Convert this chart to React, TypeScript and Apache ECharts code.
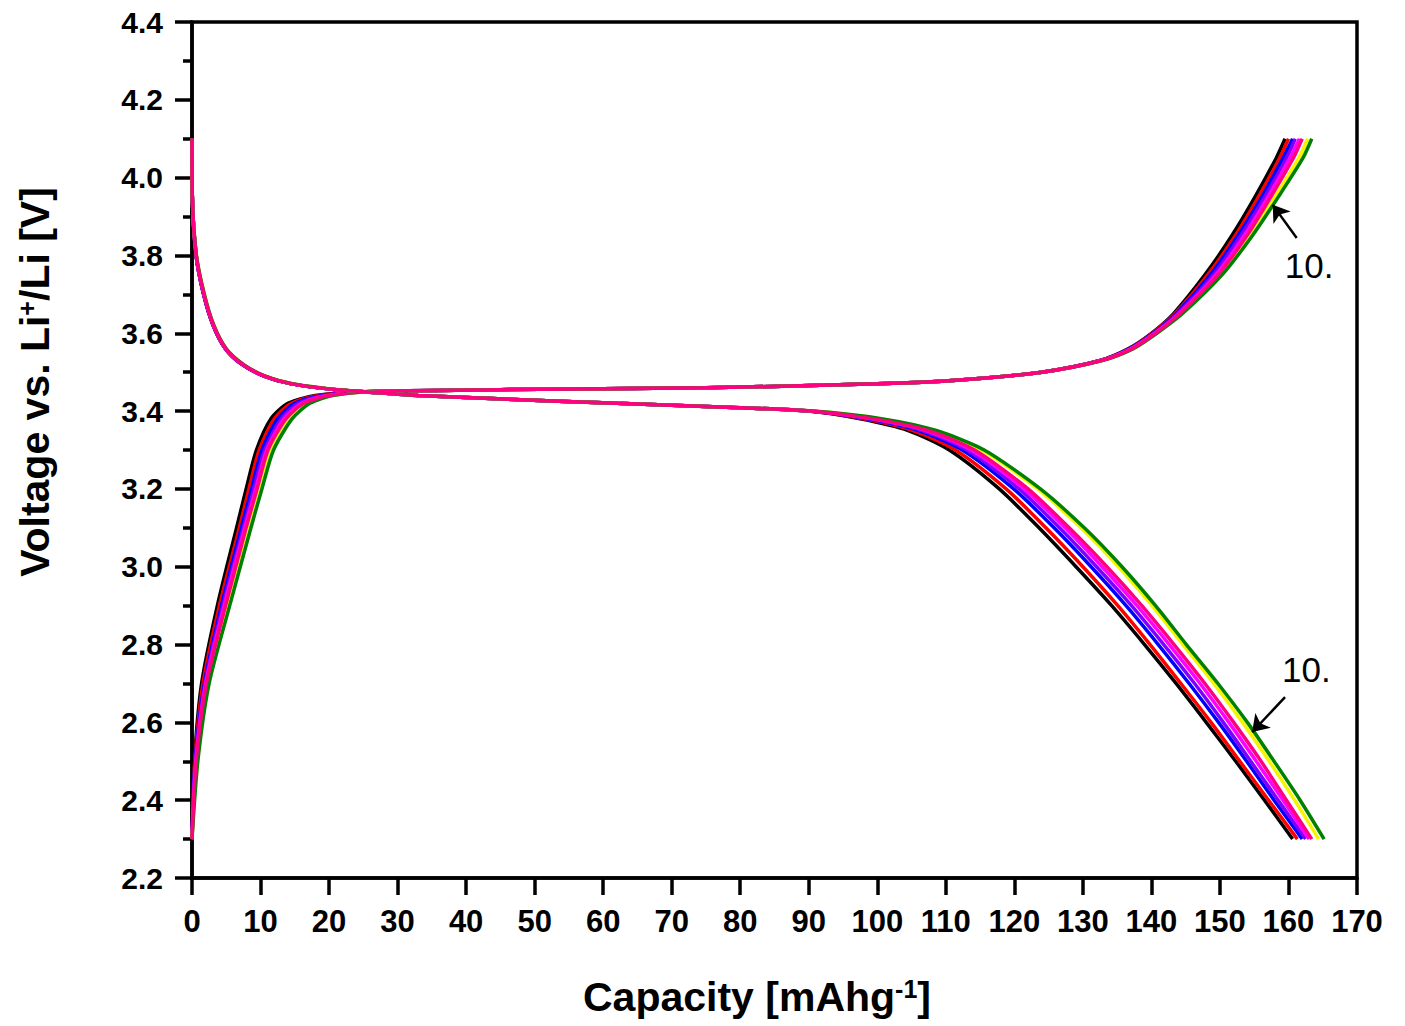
import React, { useEffect, useRef } from "react";
import * as echarts from "echarts";

// Voltage levels (V) at which capacities were read for the charge curves
const CHARGE_V = [2.30, 2.50, 2.70, 2.90, 3.10, 3.20, 3.30, 3.38, 3.42, 3.44, 3.45, 3.455, 3.46, 3.47, 3.48, 3.50, 3.53, 3.56, 3.60, 3.65, 3.75, 3.85, 3.95, 4.05, 4.10];
// Capacities (mAh/g) for each charge curve
const CHARGE_BLACK = [0, 0.35, 1.4, 3.7, 6.5, 7.9, 9.4, 11.5, 14.0, 18.0, 25.0, 45, 75, 100, 112, 124, 132.5, 136.6, 140.0, 143.2, 147.8, 151.7, 155.1, 158.2, 159.5];
const CHARGE_RED = [0, 0.4, 1.6, 4.0, 6.9, 8.3, 9.8, 12.0, 14.5, 18.5, 25.2, 45, 75, 100, 112, 124, 132.5, 136.7, 140.1, 143.4, 148.2, 152.2, 155.6, 158.7, 160.0];
const CHARGE_BLUE = [0, 0.45, 1.8, 4.3, 7.2, 8.7, 10.2, 12.5, 15.0, 19.0, 25.4, 45, 75, 100, 112, 124, 132.6, 136.8, 140.3, 143.6, 148.6, 152.6, 156.1, 159.2, 160.6];
const CHARGE_VIOLET = [0, 0.5, 1.9, 4.5, 7.5, 9.0, 10.6, 13.0, 15.5, 19.4, 25.5, 45, 75, 100, 112, 124, 132.6, 136.9, 140.4, 143.8, 149.0, 153.0, 156.5, 159.7, 161.0];
const CHARGE_MAGENTA = [0, 0.55, 2.0, 4.7, 7.7, 9.3, 10.9, 13.4, 16.0, 19.7, 25.6, 45, 75, 100, 112, 124, 132.7, 137.0, 140.5, 144.0, 149.4, 153.5, 157.0, 160.2, 161.6];
const CHARGE_PINK = [0, 0.6, 2.1, 4.9, 7.9, 9.5, 11.1, 13.7, 16.3, 19.9, 25.7, 45, 75, 100, 112, 124, 132.7, 137.1, 140.6, 144.1, 149.7, 153.9, 157.4, 160.7, 162.0];
const CHARGE_YELLOW = [0, 0.75, 2.4, 5.3, 8.4, 10.0, 11.6, 14.3, 16.9, 20.3, 25.9, 45, 75, 100, 112, 124, 132.8, 137.2, 140.7, 144.3, 150.0, 154.3, 158.0, 161.5, 162.8];
const CHARGE_GREEN = [0, 0.85, 2.5, 5.5, 8.6, 10.2, 11.9, 14.6, 17.2, 20.5, 26.0, 45, 75, 100, 112, 124, 132.8, 137.3, 140.8, 144.5, 150.3, 154.7, 158.5, 162.1, 163.4];

// Voltage levels (V) at which capacities were read for the discharge curves
const DISCHARGE_V = [4.10, 3.95, 3.80, 3.70, 3.62, 3.56, 3.52, 3.49, 3.47, 3.455, 3.45, 3.44, 3.43, 3.42, 3.41, 3.40, 3.38, 3.35, 3.30, 3.20, 3.10, 3.00, 2.90, 2.80, 2.70, 2.60, 2.50, 2.40, 2.30];
const DISCHARGE_BLACK = [0, 0.05, 0.6, 1.7, 3.1, 4.9, 7.3, 10.5, 14.5, 21.0, 25.0, 33, 47, 62, 78, 90.0, 97.5, 104.5, 110.5, 117.8, 123.6, 129.0, 134.2, 139.0, 143.6, 148.0, 152.3, 156.5, 160.6];
const DISCHARGE_RED = [0, 0.05, 0.6, 1.7, 3.1, 4.9, 7.3, 10.5, 14.5, 21.0, 25.0, 33, 47, 62, 78, 90.0, 98.0, 105.2, 111.4, 118.8, 124.6, 130.0, 135.1, 139.8, 144.3, 148.7, 152.9, 157.1, 161.3];
const DISCHARGE_BLUE = [0, 0.05, 0.6, 1.7, 3.1, 4.9, 7.3, 10.5, 14.5, 21.0, 25.0, 33, 47, 62, 78, 90.1, 98.5, 106.0, 112.4, 119.9, 125.8, 131.2, 136.3, 141.0, 145.5, 149.8, 153.9, 157.9, 162.0];
const DISCHARGE_VIOLET = [0, 0.05, 0.6, 1.7, 3.1, 4.9, 7.3, 10.5, 14.5, 21.0, 25.0, 33, 47, 62, 78, 90.2, 99.0, 106.6, 113.1, 120.7, 126.6, 132.0, 137.1, 141.8, 146.3, 150.5, 154.5, 158.5, 162.5];
const DISCHARGE_MAGENTA = [0, 0.05, 0.62, 1.75, 3.15, 4.95, 7.4, 10.6, 14.6, 21.1, 25.1, 33, 47, 62, 78, 90.3, 99.3, 107.1, 113.7, 121.4, 127.4, 132.8, 137.9, 142.6, 147.1, 151.3, 155.3, 159.2, 163.0];
const DISCHARGE_PINK = [0, 0.05, 0.62, 1.75, 3.15, 4.95, 7.4, 10.6, 14.6, 21.1, 25.1, 33, 47, 62, 78, 90.3, 99.5, 107.4, 114.2, 122.0, 128.0, 133.5, 138.6, 143.3, 147.8, 152.0, 156.0, 159.7, 163.4];
const DISCHARGE_YELLOW = [0, 0.05, 0.65, 1.8, 3.2, 5.0, 7.5, 10.7, 14.8, 21.3, 25.2, 33, 47, 62, 78, 90.5, 100.5, 108.3, 115.2, 123.4, 129.7, 135.2, 140.1, 144.6, 149.1, 153.3, 157.2, 160.9, 164.4];
const DISCHARGE_GREEN = [0, 0.05, 0.65, 1.8, 3.2, 5.0, 7.5, 10.7, 14.8, 21.3, 25.2, 33, 47, 62, 78, 90.5, 100.8, 108.6, 115.6, 123.8, 130.2, 135.7, 140.6, 145.1, 149.7, 154.0, 157.9, 161.7, 165.2];

const CYCLE_COLORS = ["#000000", "#FF0000", "#0000FF", "#8000FF", "#FF00FF", "#F5F500", "#008000", "#FF0080"];
const CHARGE_CAPS = [CHARGE_BLACK, CHARGE_RED, CHARGE_BLUE, CHARGE_VIOLET, CHARGE_MAGENTA, CHARGE_YELLOW, CHARGE_GREEN, CHARGE_PINK];
const DISCHARGE_CAPS = [DISCHARGE_BLACK, DISCHARGE_RED, DISCHARGE_BLUE, DISCHARGE_VIOLET, DISCHARGE_MAGENTA, DISCHARGE_YELLOW, DISCHARGE_GREEN, DISCHARGE_PINK];

// Annotation "10." (points to the 10th cycle curves)
const ANNOT_LABEL = "10.";
const CHARGE_ARROW = [[161.2, 3.845], [157.7, 3.93]];
const CHARGE_LABEL_AT = [163.0, 3.775];
const DISCHARGE_ARROW = [[159.5, 2.665], [154.7, 2.575]];
const DISCHARGE_LABEL_AT = [162.6, 2.735];

const X_MIN = 0, X_MAX = 170, X_STEP = 10;
const Y_MIN = 2.2, Y_MAX = 4.4, Y_STEP = 0.2;

const FONT = "'Liberation Sans', Arial, Helvetica, sans-serif";

function annotation(arrow: number[][], labelAt: number[]) {
  return {
    markLine: {
      silent: true,
      animation: false,
      symbol: ["none", "arrow"],
      symbolSize: 16,
      label: { show: false },
      lineStyle: { color: "#000", width: 2.5, type: "solid" },
      emphasis: { disabled: true },
      data: [[{ coord: arrow[0] }, { coord: arrow[1] }]],
    },
    markPoint: {
      silent: true,
      animation: false,
      symbol: "circle",
      symbolSize: 1,
      itemStyle: { color: "rgba(0,0,0,0)" },
      label: {
        show: true,
        position: "inside",
        formatter: ANNOT_LABEL,
        color: "#000",
        fontSize: 35,
        fontFamily: FONT,
        fontWeight: "normal",
      },
      data: [{ coord: labelAt }],
    },
  };
}

export default function App() {
  const ref = useRef<HTMLDivElement>(null);

  useEffect(() => {
    if (!ref.current) return;
    const chart = echarts.init(ref.current, undefined, { renderer: "svg" });

    const series: any[] = [];
    CYCLE_COLORS.forEach((color, i) => {
      const isGreen = color === "#008000";
      series.push({
        type: "line",
        name: "charge " + i,
        data: CHARGE_CAPS[i].map((c, k) => [c, CHARGE_V[k]]),
        showSymbol: false,
        smooth: 0.25,
        lineStyle: { color, width: 3.5 },
        itemStyle: { color },
        ...(isGreen ? annotation(CHARGE_ARROW, CHARGE_LABEL_AT) : {}),
      });
    });
    CYCLE_COLORS.forEach((color, i) => {
      const isGreen = color === "#008000";
      series.push({
        type: "line",
        name: "discharge " + i,
        data: DISCHARGE_CAPS[i].map((c, k) => [c, DISCHARGE_V[k]]),
        showSymbol: false,
        smooth: 0.25,
        lineStyle: { color, width: 3.5 },
        itemStyle: { color },
        ...(isGreen ? annotation(DISCHARGE_ARROW, DISCHARGE_LABEL_AT) : {}),
      });
    });

    const axisLine = { show: true, lineStyle: { color: "#000", width: 3.5 } };

    chart.setOption({
      animation: false,
      backgroundColor: "#fff",
      grid: {
        left: 192,
        right: 48,
        top: 22,
        bottom: 148,
        show: true,
        borderColor: "#000",
        borderWidth: 3.5,
        backgroundColor: "transparent",
      },
      xAxis: {
        type: "value",
        min: X_MIN,
        max: X_MAX,
        interval: X_STEP,
        axisLine,
        axisTick: { show: true, inside: false, length: 17, lineStyle: { color: "#000", width: 3.5 } },
        axisLabel: {
          color: "#000",
          fontSize: 31,
          fontWeight: "bold",
          fontFamily: FONT,
          margin: 28,
        },
        splitLine: { show: false },
      },
      yAxis: {
        type: "value",
        min: Y_MIN,
        max: Y_MAX,
        interval: Y_STEP,
        axisLine,
        axisTick: { show: true, inside: false, length: 17, lineStyle: { color: "#000", width: 3.5 } },
        minorTick: { show: true, splitNumber: 2, length: 9, lineStyle: { color: "#000", width: 3.5 } },
        axisLabel: {
          color: "#000",
          fontSize: 30,
          fontWeight: "bold",
          fontFamily: FONT,
          margin: 29,
          formatter: (v: number) => v.toFixed(1),
        },
        splitLine: { show: false },
        minorSplitLine: { show: false },
      },
      graphic: [
        {
          type: "text",
          x: 757,
          y: 997,
          silent: true,
          style: {
            text: "{b|Capacity [mAhg}{s|-1}{b|]}",
            align: "center",
            verticalAlign: "middle",
            fill: "#000",
            fontFamily: FONT,
            fontWeight: "bold",
            fontSize: 41,
            rich: {
              b: { fontSize: 41, fontWeight: "bold", fontFamily: FONT, fill: "#000" },
              s: { fontSize: 25, fontWeight: "bold", fontFamily: FONT, fill: "#000", verticalAlign: "top" },
            },
          },
        },
        {
          type: "text",
          x: 35,
          y: 382,
          rotation: Math.PI / 2,
          silent: true,
          style: {
            text: "{b|Voltage vs. Li}{s|+}{b|/Li [V]}",
            align: "center",
            verticalAlign: "middle",
            fill: "#000",
            fontFamily: FONT,
            fontWeight: "bold",
            fontSize: 41,
            rich: {
              b: { fontSize: 41, fontWeight: "bold", fontFamily: FONT, fill: "#000" },
              s: { fontSize: 25, fontWeight: "bold", fontFamily: FONT, fill: "#000", verticalAlign: "top" },
            },
          },
        },
      ],
      series,
    });

    return () => chart.dispose();
  }, []);

  return (
    <div
      ref={ref}
      style={{ position: "fixed", left: 0, top: 0, width: 1405, height: 1026, background: "#fff" }}
    />
  );
}
